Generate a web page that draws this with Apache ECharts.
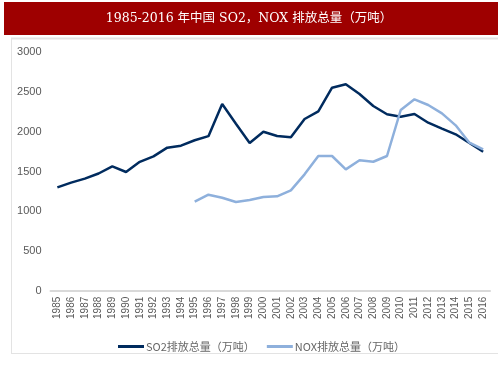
<!DOCTYPE html>
<html><head><meta charset="utf-8">
<script src="https://cdn.jsdelivr.net/npm/echarts@6/dist/echarts.min.js"></script>
<style>html,body{margin:0;padding:0;background:#fff}#c{width:503px;height:378px}</style>
</head><body><div id="c"></div>
<script>
var years = ['1985','1986','1987','1988','1989','1990','1991','1992','1993','1994','1995','1996','1997','1998','1999','2000','2001','2002','2003','2004','2005','2006','2007','2008','2009','2010','2011','2012','2013','2014','2015','2016'];
var so2 = [1300,1360,1410,1475,1565,1494,1622,1691,1800,1825,1893,1945,2349,2100,1858,2000,1947,1930,2161,2257,2555,2597,2475,2324,2220,2190,2223,2114,2039,1968,1859,1749];
var nox = [null,null,null,null,null,null,null,null,null,null,1120,1208,1170,1116,1141,1179,1188,1263,1464,1695,1695,1527,1641,1623,1695,2274,2408,2337,2232,2081,1862,1779];
var yTicks = [0,500,1000,1500,2000,2500,3000];
var titleText = '1985-2016 年中国 SO2，NOX 排放总量（万吨）';
var legendNames = ['SO2排放总量（万吨）','NOX排放总量（万吨）'];

var chart = echarts.init(document.getElementById('c'));
chart.setOption({
  animation: false,
  graphic: [
    {type:'rect', shape:{x:4,y:2,width:494,height:33}, style:{fill:'#9E0000'}, z:0},
    {type:'text', x:249, y:19, style:{text:titleText, fill:'#fff', font:'12.5px "DejaVu Serif", "Noto Sans CJK SC", serif', textAlign:'center', textVerticalAlign:'middle'}},
    {type:'line', shape:{x1:11,y1:38.5,x2:498,y2:38.5}, style:{stroke:'#e3e3e3', lineWidth:2}},
    {type:'line', shape:{x1:11.5,y1:39,x2:11.5,y2:353}, style:{stroke:'#e3e3e3', lineWidth:1}},
    {type:'line', shape:{x1:11,y1:353.5,x2:498,y2:353.5}, style:{stroke:'#e3e3e3', lineWidth:1}}
  ],
  grid: {left:50.5, right:13, top:52.3, bottom:87.3, containLabel:false},
  legend: {
    top: 336, left: 113, itemGap: 12, itemWidth: 26, itemHeight: 3,
    icon: 'rect',
    textStyle: {color:'#666666', fontSize:11, fontFamily:'"Noto Sans CJK SC", sans-serif', padding:[0,0,0,-3]},
    data: legendNames
  },
  xAxis: {
    type:'category', data: years, boundaryGap:true,
    axisLine:{lineStyle:{color:'#d9d9d9', width:2}},
    axisTick:{show:false},
    axisLabel:{rotate:90, interval:0, color:'#595959', fontSize:10, margin:6, fontFamily:'Arial, "Liberation Sans", sans-serif'}
  },
  yAxis: {
    type:'value', min:0, max:3000, interval:500,
    splitLine:{show:false}, axisLine:{show:false}, axisTick:{show:false},
    axisLabel:{color:'#595959', fontSize:11, margin:9, fontFamily:'Arial, "Liberation Sans", sans-serif', formatter: function(v){ return String(v); }}
  },
  series: [
    {name:legendNames[0], type:'line', data:so2, symbol:'none', lineStyle:{color:'#002B5E', width:2.5}, itemStyle:{color:'#002B5E'}},
    {name:legendNames[1], type:'line', data:nox, symbol:'none', lineStyle:{color:'#8EB0DC', width:2.5}, itemStyle:{color:'#8EB0DC'}}
  ]
});
</script></body></html>
